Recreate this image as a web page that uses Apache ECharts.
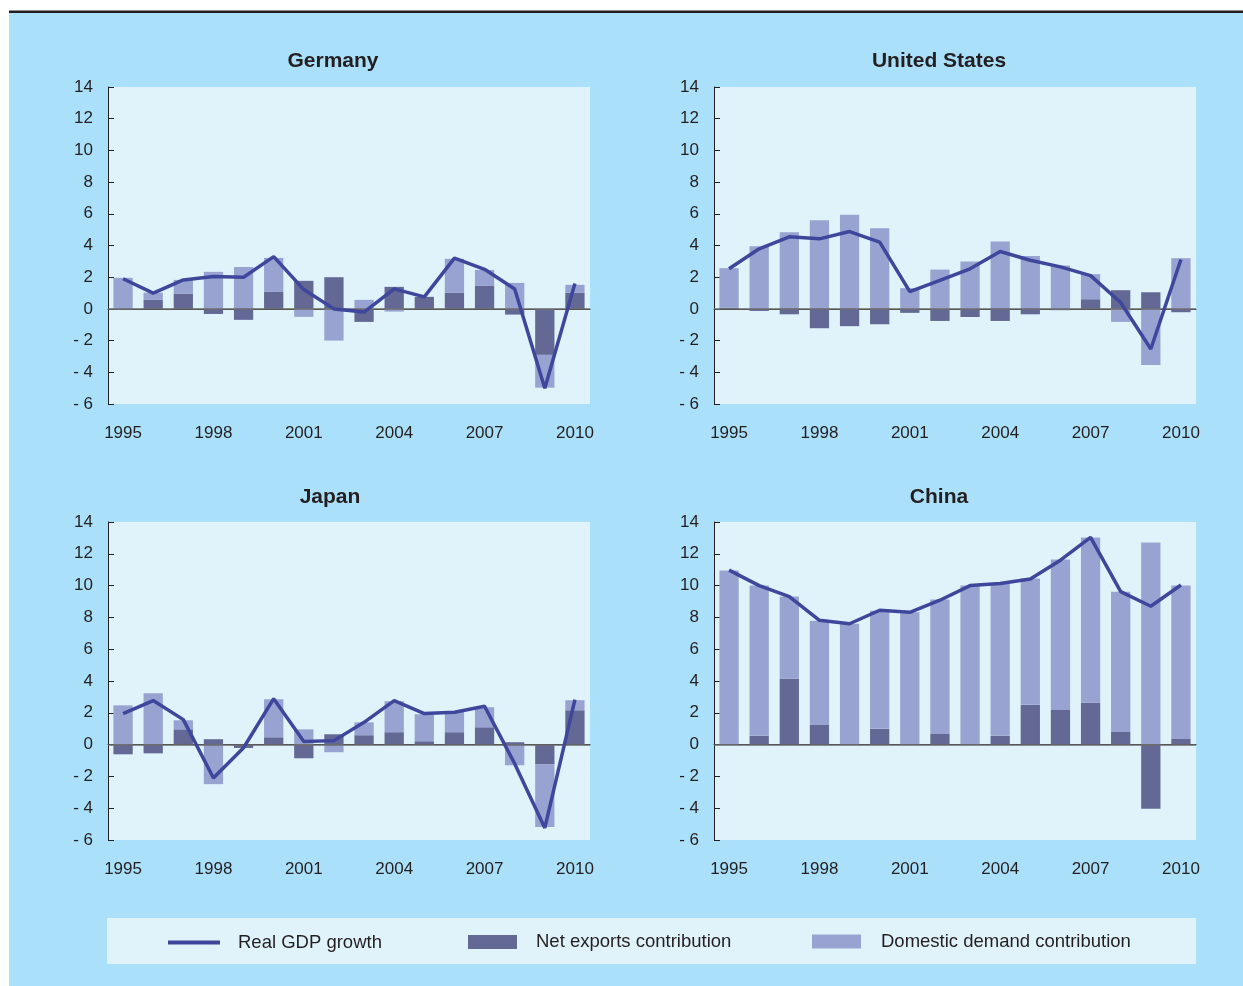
<!DOCTYPE html>
<html>
<head>
<meta charset="utf-8">
<script src="https://cdn.jsdelivr.net/npm/echarts@6/dist/echarts.min.js"></script>
<style>
html,body{margin:0;padding:0;background:#ffffff;}
#c{width:1243px;height:986px;}
</style>
</head>
<body>
<div id="c"></div>
<script>
var years = ['1995','1996','1997','1998','1999','2000','2001','2002','2003','2004','2005','2006','2007','2008','2009','2010'];
var countries = ['Germany','United States','Japan','China'];

var germanyNet = [-0.05,0.57,0.95,-0.32,-0.69,1.07,1.77,2.0,-0.82,1.39,0.76,1.03,1.45,-0.36,-2.9,1.03];
var germanyDom = [1.96,0.46,0.88,2.34,2.65,2.15,-0.5,-2.0,0.57,-0.17,0.0,2.13,1.01,1.64,-2.07,0.49];
var germanyGdp = [1.9,1.0,1.83,2.04,2.0,3.3,1.22,0.0,-0.2,1.26,0.76,3.2,2.5,1.26,-5.0,1.6];

var usNet = [0.08,-0.13,-0.34,-1.22,-1.09,-0.97,-0.25,-0.76,-0.51,-0.76,-0.34,-0.08,0.61,1.18,1.05,-0.21];
var usDom = [2.49,3.96,4.84,5.6,5.94,5.09,1.31,2.48,2.99,4.25,3.33,2.74,1.58,-0.82,-3.54,3.2];
var usGdp = [2.53,3.79,4.55,4.42,4.88,4.21,1.09,1.8,2.53,3.62,3.07,2.65,2.1,0.4,-2.53,3.12];

var japanNet = [-0.61,-0.55,0.96,0.34,-0.21,0.46,-0.86,0.65,0.59,0.78,0.21,0.78,1.09,0.15,-1.24,2.16];
var japanDom = [2.47,3.23,0.57,-2.49,0.0,2.39,0.96,-0.48,0.81,1.95,1.7,1.32,1.26,-1.3,-3.94,0.63];
var japanGdp = [1.95,2.77,1.57,-2.1,-0.2,2.89,0.19,0.25,1.4,2.77,1.95,2.03,2.41,-1.2,-5.24,2.83];

var chinaNet = [0.0,0.55,4.14,1.24,0.0,0.99,0.0,0.67,0.0,0.55,2.5,2.18,2.63,0.8,-4.03,0.36];
var chinaDom = [10.95,9.45,5.17,6.55,7.6,7.43,8.32,8.45,10.0,9.58,7.94,9.46,10.4,8.82,12.71,9.64];
var chinaGdp = [10.97,10.0,9.31,7.82,7.6,8.45,8.32,9.08,10.0,10.13,10.42,11.6,13.03,9.62,8.7,10.04];

var netData = [germanyNet, usNet, japanNet, chinaNet];
var domData = [germanyDom, usDom, japanDom, chinaDom];
var gdpData = [germanyGdp, usGdp, japanGdp, chinaGdp];

var C_LINE = '#3E479B', C_NET = '#636894', C_DOM = '#99A3D1';
var C_TEXT = '#231F20';
var FONT = 'Liberation Sans, Arial, sans-serif';

var grids = [
  {left:108, top:87, width:482, height:317},
  {left:714, top:87, width:482, height:317},
  {left:108, top:522, width:482, height:318},
  {left:714, top:522, width:482, height:318}
];
var titlePos = [{x:333,y:51},{x:939,y:51},{x:330,y:487},{x:939,y:487}];

var option = {
  animation:false,
  backgroundColor:'#ffffff',
  graphic:[
    {type:'rect', shape:{x:9,y:13,width:1234,height:973}, style:{fill:'#ABE0FA'}, z:-10},
    {type:'rect', shape:{x:9,y:10.5,width:1234,height:2.5}, style:{fill:C_TEXT}, z:-10},
    {type:'rect', shape:{x:107,y:918,width:1089,height:46}, style:{fill:'#E0F3FB'}, z:-10}
  ],
  title: countries.map(function(n,i){
    return {text:n, left:titlePos[i].x, top:titlePos[i].y, textAlign:'center', padding:0,
      textStyle:{fontFamily:FONT,fontSize:21,fontWeight:'bold',color:C_TEXT}};
  }),
  legend:[
    {data:[{name:'Real GDP growth', icon:'path://M0,0H52V4H0Z'}], left:168, top:933,
      itemWidth:52, itemHeight:4, textStyle:{fontFamily:FONT,fontSize:18.5,color:C_TEXT,padding:[0,0,0,13]}},
    {data:[{name:'Net exports contribution', icon:'rect'}], left:468, top:932.5,
      itemWidth:49, itemHeight:14, textStyle:{fontFamily:FONT,fontSize:18.5,color:C_TEXT,padding:[0,0,0,14]}},
    {data:[{name:'Domestic demand contribution', icon:'rect'}], left:812, top:932,
      itemWidth:49, itemHeight:14, textStyle:{fontFamily:FONT,fontSize:18.5,color:C_TEXT,padding:[0,0,0,15]}}
  ].map(function(l){
    l.padding=0; l.selectedMode=false;
    return l;
  }),
  grid: grids.map(function(g){
    return {left:g.left, top:g.top, width:g.width, height:g.height, show:true,
      backgroundColor:'#E0F3FB', borderWidth:0};
  }),
  xAxis: grids.map(function(g,i){
    return {type:'category', gridIndex:i, data:years, boundaryGap:true,
      axisLine:{lineStyle:{color:C_TEXT,width:1}},
      axisTick:{inside:true,length:6,interval:0,lineStyle:{color:C_TEXT}},
      axisLabel:{interval:2,margin:21,fontFamily:FONT,fontSize:17,color:C_TEXT},
      splitLine:{show:false}};
  }),
  yAxis: grids.map(function(g,i){
    return {type:'value', gridIndex:i, min:-6, max:14, interval:2,
      axisLine:{show:true,lineStyle:{color:C_TEXT,width:1}},
      axisTick:{show:true,inside:true,length:6,lineStyle:{color:C_TEXT}},
      axisLabel:{margin:15,fontFamily:FONT,fontSize:17,color:C_TEXT,
        formatter:function(v){return v<0?('- '+Math.abs(v)):String(v);}},
      splitLine:{show:false}};
  }),
  series:[]
};

for (var i=0;i<4;i++){
  option.series.push({
    name:'Net exports contribution', type:'bar', xAxisIndex:i, yAxisIndex:i,
    stack:'s'+i, data:netData[i], barWidth:'64%', itemStyle:{color:C_NET},
    markLine:{silent:true, symbol:'none', label:{show:false},
      lineStyle:{color:'#6b6b6b',width:1.5,type:'solid'}, data:[{yAxis:0}], z:5}
  });
  option.series.push({
    name:'Domestic demand contribution', type:'bar', xAxisIndex:i, yAxisIndex:i,
    stack:'s'+i, data:domData[i], barWidth:'64%', itemStyle:{color:C_DOM}
  });
  option.series.push({
    name:'Real GDP growth', type:'line', xAxisIndex:i, yAxisIndex:i,
    data:gdpData[i], symbol:'none', showSymbol:false, z:10,
    lineStyle:{color:C_LINE,width:3.5}, itemStyle:{color:C_LINE}
  });
}

var chart = echarts.init(document.getElementById('c'), null, {renderer:'canvas'});
chart.setOption(option);
</script>
</body>
</html>
